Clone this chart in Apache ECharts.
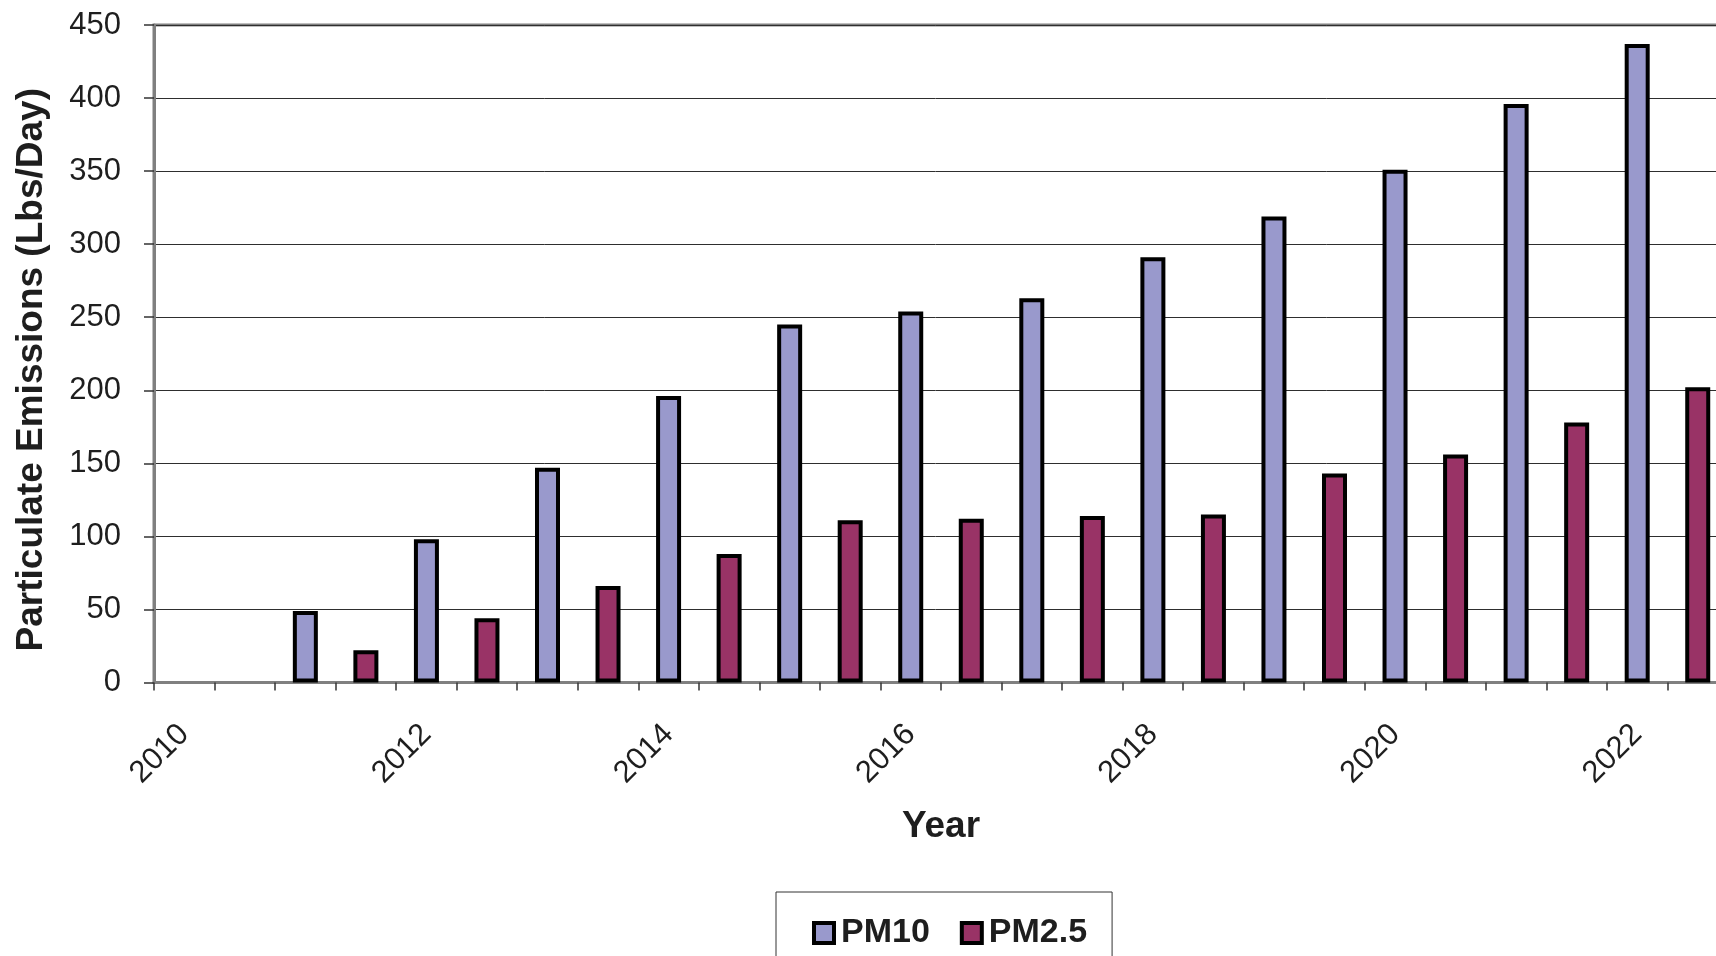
<!DOCTYPE html>
<html>
<head>
<meta charset="utf-8">
<title>Particulate Emissions</title>
<script src="https://cdn.jsdelivr.net/npm/echarts@6/dist/echarts.min.js"></script>
<style>
  html, body { margin: 0; padding: 0; background: #ffffff; }
  #chart { width: 1716px; height: 956px; }
</style>
</head>
<body>
<div id="chart"></div>
<script>
// Daily particulate emissions by year (lbs/day)
const years = [2010, 2011, 2012, 2013, 2014, 2015, 2016, 2017, 2018, 2019, 2020, 2021, 2022];
const pm10 = [null, 49, 98, 147, 196, 245, 254, 263, 291, 319, 351, 396, 437];
const pm25 = [null, 22, 44, 66, 88, 111, 112, 114, 115, 143, 156, 178, 202];
const seriesNames = ['PM10', 'PM2.5'];
const yTicks = { min: 0, max: 450, step: 50 };

// Each year takes two slots on the axis: PM10 first, then PM2.5
const slots = years.flatMap(y => [y + '|' + seriesNames[0], y + '|' + seriesNames[1]]);
const pm10Slots = years.flatMap((y, i) => [pm10[i], null]);
const pm25Slots = years.flatMap((y, i) => [null, pm25[i]]);

const FONT = '"Liberation Sans", Arial, Helvetica, sans-serif';
const TEXT = '#1e1e1e';

const chart = echarts.init(document.getElementById('chart'), null, { renderer: 'canvas' });

chart.setOption({
  backgroundColor: '#ffffff',
  animation: false,
  textStyle: { fontFamily: FONT },
  grid: {
    left: 154,
    top: 25,
    right: -12,
    bottom: 273.5,
    show: true,
    borderColor: '#808080',
    borderWidth: 3,
    outerBoundsMode: 'none'
  },
  legend: {
    left: 776,
    top: 892,
    orient: 'horizontal',
    padding: [24, 25, 40, 36],
    borderColor: '#333333',
    borderWidth: 1,
    itemWidth: 20,
    itemHeight: 20,
    itemGap: 30,
    icon: 'rect',
    itemStyle: { borderColor: '#000000', borderWidth: 4 },
    textStyle: { fontFamily: FONT, fontSize: 34, fontWeight: 'bold', color: TEXT, padding: [0, 0, 0, 2] },
    data: seriesNames
  },
  xAxis: {
    type: 'category',
    data: slots,
    boundaryGap: true,
    name: 'Year',
    nameLocation: 'middle',
    nameGap: 126,
    nameTextStyle: { fontFamily: FONT, fontSize: 37, fontWeight: 'bold', color: TEXT },
    axisLine: { show: true, lineStyle: { color: '#808080', width: 3 } },
    axisTick: { show: true, interval: 0, length: 8, lineStyle: { color: '#333333', width: 1.5 } },
    axisLabel: {
      interval: 3,
      rotate: 45,
      margin: 47,
      fontFamily: FONT,
      fontSize: 31,
      color: TEXT,
      padding: [0, 0, 0, 0],
      formatter: v => v.split('|')[0]
    },
    splitLine: { show: false }
  },
  yAxis: {
    type: 'value',
    min: yTicks.min,
    max: yTicks.max,
    interval: yTicks.step,
    name: 'Particulate Emissions (Lbs/Day)',
    nameLocation: 'middle',
    nameGap: 104,
    nameRotate: 90,
    nameTextStyle: { fontFamily: FONT, fontSize: 37, fontWeight: 'bold', color: TEXT, padding: [0, 32, 0, 0] },
    axisLine: { show: true, lineStyle: { color: '#808080', width: 3 } },
    axisTick: { show: true, length: 10, lineStyle: { color: '#333333', width: 1.5 } },
    axisLabel: { margin: 33, fontFamily: FONT, fontSize: 31, color: TEXT },
    splitLine: { show: true, lineStyle: { color: '#2e2e2e', width: 1 } }
  },
  series: [
    {
      name: seriesNames[0],
      type: 'bar',
      data: pm10Slots,
      barWidth: 25,
      barGap: '-100%',
      itemStyle: { color: '#9999cc', borderColor: '#000000', borderWidth: 4 }
    },
    {
      name: seriesNames[1],
      type: 'bar',
      data: pm25Slots,
      barWidth: 25,
      barGap: '-100%',
      itemStyle: { color: '#993366', borderColor: '#000000', borderWidth: 4 }
    }
  ]
});
</script>
</body>
</html>
